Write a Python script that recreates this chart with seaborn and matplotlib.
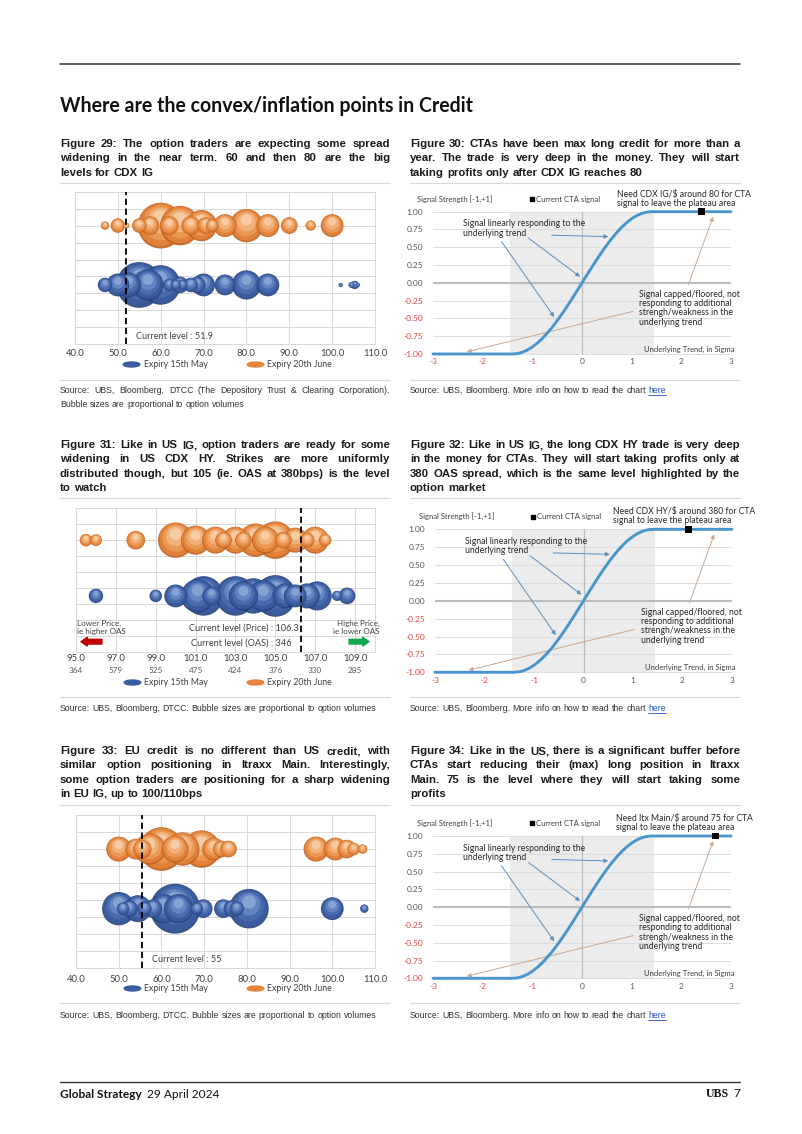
import warnings
warnings.filterwarnings("ignore")

import matplotlib
matplotlib.use("Agg")
import matplotlib.pyplot as plt
from matplotlib.lines import Line2D
from matplotlib.path import Path
from matplotlib.transforms import Affine2D
import seaborn as sns
import numpy as np
import pandas as pd

# ---------------- data ----------------
# Figure 29 - CDX IG option strikes / volumes
IG_MAY_STRIKE = [47, 50, 52.5, 55, 57, 60, 62, 63.5, 64.5, 65, 67, 68.5, 70, 75, 80, 85, 102, 104.5, 105.3, 106]
IG_MAY_VOL = [12, 30, 36, 121, 56, 90, 9, 6, 16, 6, 12, 16, 30, 25, 49, 30, 1, 2, 4, 1]
IG_JUN_STRIKE = [47, 50, 52, 55, 57.5, 60, 62, 64.5, 67, 69.5, 70.5, 72, 75, 80, 85, 90, 95, 100]
IG_JUN_VOL = [4, 12, 2, 12, 20, 121, 20, 90, 20, 56, 16, 9, 30, 64, 30, 16, 6, 30]
IG_LEVEL = 51.9

# Figure 31 - CDX HY option strikes / volumes
HY_MAY_STRIKE = [96, 99, 100, 101.1, 101.4, 101.8, 103, 103.4, 103.9, 104.4, 105, 105.5, 106, 106.6, 107.1, 108.1, 108.6]
HY_MAY_VOL = [12, 9, 30, 64, 90, 20, 90, 49, 72, 56, 100, 36, 30, 36, 49, 6, 16]
HY_JUN_STRIKE = [95.5, 96, 98, 100, 101, 102, 102.4, 103, 103.4, 104, 104.5, 105, 105.4, 106, 106.6, 107, 107.5]
HY_JUN_VOL = [9, 8, 20, 72, 49, 42, 16, 42, 16, 64, 42, 81, 16, 36, 12, 42, 9]
HY_LEVEL = 106.3
HY_LEVEL_OAS = 346
HY_TICKS = [95, 97, 99, 101, 103, 105, 107, 109]
HY_OAS = ["364", "579", "525", "475", "424", "376", "330", "285"]

# Figure 33 - iTraxx Main option strikes / volumes
EU_MAY_STRIKE = [50, 51, 52.5, 54.5, 56, 58, 60.5, 63.2, 64, 68.3, 69.8, 74.5, 76.5, 77.6, 80.5, 100, 107.5]
EU_MAY_VOL = [64, 9, 16, 42, 12, 20, 49, 144, 49, 9, 20, 20, 16, 12, 90, 30, 4]
EU_JUN_STRIKE = [50, 54, 55.5, 57.3, 60, 63.2, 65, 69.4, 72.2, 74, 75.7, 96.2, 100.7, 103.4, 105, 107.1]
EU_JUN_VOL = [36, 25, 20, 56, 110, 42, 64, 81, 30, 16, 16, 36, 30, 20, 9, 5]
EU_LEVEL = 55.4

SPREAD_TICKS = [40, 50, 60, 70, 80, 90, 100, 110]

# CTA signal curve (Figures 30, 32, 34)
SIGMA = [-3.0, -1.4, -1.3, -1.2, -1.1, -1.0, -0.9, -0.8, -0.7, -0.6, -0.5, -0.4, -0.3, -0.2, -0.1, 0.0,
         0.1, 0.2, 0.3, 0.4, 0.5, 0.6, 0.7, 0.8, 0.9, 1.0, 1.1, 1.2, 1.3, 1.4, 3.0]
SIGNAL = [-1.0, -1.0, -0.994, -0.975, -0.944, -0.901, -0.847, -0.782, -0.707, -0.624, -0.532, -0.434, -0.330,
          -0.223, -0.112, 0.0, 0.112, 0.223, 0.330, 0.434, 0.532, 0.624, 0.707, 0.782, 0.847, 0.901, 0.944,
          0.975, 0.994, 1.0, 1.0]
SIGNAL_TICKS = [1.0, 0.75, 0.5, 0.25, 0.0, -0.25, -0.5, -0.75, -1.0]
SIGMA_TICKS = [-3, -2, -1, 0, 1, 2, 3]
CURRENT_SIGNAL_X = {"IG": 2.41, "HY": 2.12, "MAIN": 2.68}
NEED_TEXT = {
    "IG": "Need CDX IG/$ around 80 for CTA\nsignal to leave the plateau area",
    "HY": "Need CDX HY/$ around 380 for CTA\nsignal to leave the plateau area",
    "MAIN": "Need Itx Main/$ around 75 for CTA\nsignal to leave the plateau area",
}

CAPTIONS = {
    29: ["Figure 29: The option traders are expecting some spread",
         "widening in the near term. 60 and then 80 are the big",
         "levels for CDX IG"],
    30: ["Figure 30: CTAs have been max long credit for more than a",
         "year. The trade is very deep in the money. They will start",
         "taking profits only after CDX IG reaches 80"],
    31: ["Figure 31: Like in US IG, option traders are ready for some",
         "widening in US CDX HY. Strikes are more uniformly",
         "distributed though, but 105 (ie. OAS at 380bps) is the level",
         "to watch"],
    32: ["Figure 32: Like in US IG, the long CDX HY trade is very deep",
         "in the money for CTAs. They will start taking profits only at",
         "380 OAS spread, which is the same level highlighted by the",
         "option market"],
    33: ["Figure 33: EU credit is no different than US credit, with",
         "similar option positioning in Itraxx Main. Interestingly,",
         "some option traders are positioning for a sharp widening",
         "in EU IG, up to 100/110bps"],
    34: ["Figure 34: Like in the US, there is a significant buffer before",
         "CTAs start reducing their (max) long position in Itraxx",
         "Main. 75 is the level where they will start taking some",
         "profits"],
}

# ---------------- styling ----------------
sns.set_theme(style="white")
plt.rcParams["font.family"] = ["Lato", "DejaVu Sans"]
BODY = ["Liberation Sans", "DejaVu Sans"]

W, H = 802, 1134
ORANGE = ["#c1601f", "#e5843b", "#ec9b58", "#f3b47f", "#f8cea8"]
BLUE = ["#27427c", "#3a5ca0", "#4a6db1", "#6687c3", "#8ba6d6"]
LAYERS = [(1.00, 0.00), (0.93, 0.04), (0.76, 0.12), (0.56, 0.22), (0.34, 0.34)]
AREA_K = 9.0
GRID = "#d9d9d9"
TXT = "#404040"
NOTE = "#262626"
RED = "#e0443c"

fig = plt.figure(figsize=(W / 100, H / 100), dpi=100)
fig.patch.set_facecolor("white")
renderer = fig.canvas.get_renderer()


def fx(x):
    return x / W


def fy(y):
    return 1 - y / H


def rect(x0, y0, x1, y1):
    return [fx(x0), fy(y1), (x1 - x0) / W, (y1 - y0) / H]


def hline(x0, x1, y, color, lw):
    fig.add_artist(Line2D([fx(x0), fx(x1)], [fy(y), fy(y)], color=color, lw=lw,
                          transform=fig.transFigure))


def put(x, y, s, size, **kw):
    # y is the visual middle of the line in page pixels; baseline snapped to the pixel grid
    base = round(y + 0.32 * size / 0.72)
    return fig.text(fx(x), fy(base), s, fontsize=size, va="baseline", **kw)


def width_of(s, size, weight="normal", family=None):
    t = fig.text(0, 0, s, fontsize=size, fontweight=weight)
    if family:
        t.set_family(family)
    w = t.get_window_extent(renderer).width
    t.remove()
    return w


def fit(s, target, weight="normal", base=8.0, family=None):
    return base * target / width_of(s, base, weight, family)


def paragraph(lines, x0, x1, y0, dy, size, weight="bold", color="#1a1a1a"):
    # justified block: every line but the last is spread to the full column width
    space = width_of("a a", size, weight, BODY) - width_of("aa", size, weight, BODY)
    for i, line in enumerate(lines):
        y = y0 + i * dy
        words = line.split(" ")
        arts = [put(x0, y, w, size, fontweight=weight, color=color, family=BODY) for w in words]
        widths = [a.get_window_extent(renderer).width for a in arts]
        gap = space
        if i < len(lines) - 1 and len(words) > 1:
            gap = (x1 - x0 - sum(widths)) / (len(words) - 1)
        x = x0
        for a, w in zip(arts, widths):
            a.set_x(fx(x))
            x += w + gap


# ---------------- page furniture ----------------
hline(60, 740, 64, "#555555", 1.3)
title = "Where are the convex/inflation points in Credit"
put(60, 106, title, fit(title, 415, "bold"), fontweight="bold", color="#111111")

cap_size = 9.5
for lines in CAPTIONS.values():
    for line in lines[:-1]:
        cap_size = min(cap_size, fit(line, 327, "bold", family=BODY))

for fig_no, (x0, x1) in zip([29, 30, 31, 32, 33, 34], [(60, 390), (410, 740)] * 3):
    y0 = {29: 143, 30: 143, 31: 444, 32: 444, 33: 750, 34: 750}[fig_no]
    paragraph(CAPTIONS[fig_no], x0, x1, y0, 14.5, cap_size)

for y in [183, 498, 805]:
    hline(60, 390, y, GRID, 0.8)
    hline(410, 740, y, GRID, 0.8)
for y in [380, 697, 1003]:
    hline(60, 390, y, GRID, 0.8)
    hline(410, 740, y, GRID, 0.8)

SRC = "#333333"
src_line = "Source: UBS, Bloomberg, DTCC. Bubble sizes are proportional to option volumes"
src_size = fit(src_line, 321, family=BODY)
paragraph(["Source: UBS, Bloomberg, DTCC (The Depository Trust & Clearing Corporation).",
           "Bubble sizes are proportional to option volumes"], 60, 390, 390, 14, src_size,
          weight="normal", color=SRC)
paragraph([src_line], 60, 390, 708, 14, src_size, weight="normal", color=SRC)
paragraph([src_line], 60, 390, 1015, 14, src_size, weight="normal", color=SRC)
for y in [390, 708, 1015]:
    lead = "Source: UBS, Bloomberg. More info on how to read the chart"
    paragraph([lead], 410, 740, y, 14, src_size, weight="normal", color=SRC)
    hx = 410 + width_of(lead + " ", src_size, family=BODY)
    put(hx, y, "here", src_size, color="#1f4fd1", family=BODY)
    hline(hx, hx + width_of("here", src_size, family=BODY), y + 5, "#1f4fd1", 0.6)

hline(60, 740, 1082, "#333333", 1.0)
put(60, 1094, "Global Strategy", 8.6, fontweight="bold", color="#111111")
put(60 + width_of("Global Strategy", 8.6, "bold") + 5, 1094, "29 April 2024", 8.6, color="#111111")
fig.text(fx(740), fy(1097), "7", fontsize=8.6, ha="right", va="baseline", color="#111111")
fig.text(fx(729), fy(1097), "UBS", fontsize=8.6, ha="right", va="baseline", color="#111111",
         family=["Liberation Serif", "DejaVu Serif"], fontweight="bold")


# ---------------- bubble charts ----------------
def draw_bubbles(ax, strikes, vols, row, shades, px_per_unit):
    order = np.argsort(vols)[::-1]
    for rank, i in enumerate(order):
        s0 = vols[i] * AREA_K
        r_px = np.sqrt(s0) / 2 / 0.72
        layer = pd.DataFrame({
            "strike": [strikes[i]] * len(LAYERS),
            "row": [row + sh * r_px / px_per_unit for _, sh in LAYERS],
            "shade": [str(k) for k in range(len(LAYERS))],
        })
        sns.scatterplot(data=layer, x="strike", y="row", hue="shade",
                        palette=dict(zip(layer["shade"], shades)),
                        s=[s0 * f ** 2 for f, _ in LAYERS], edgecolor="none", linewidth=0,
                        alpha=0.9, legend=False, ax=ax, zorder=3 + rank * 0.01)


ELLIPSE = Path.unit_circle().transformed(Affine2D().scale(1.0, 0.3))


def bubble_chart(box, xlim, xticks, may, jun, level, legend_y, tick_pad):
    ax = fig.add_axes(rect(*box))
    px_per_unit = (box[3] - box[1]) / 9
    draw_bubbles(ax, may[0], may[1], 3.5, BLUE, px_per_unit)
    draw_bubbles(ax, jun[0], jun[1], 7.0, ORANGE, px_per_unit)
    ax.axvline(level, color="black", lw=1.3, ls=(0, (3.5, 2)), zorder=20)
    ax.set_xlim(*xlim)
    ax.set_ylim(0, 9)
    ax.set_yticks(range(10))
    ax.set_yticklabels([])
    ax.set_xticks(xticks)
    ax.set_xticklabels([f"{v:.1f}" for v in xticks])
    ax.tick_params(length=0, labelsize=6.8, labelcolor=TXT, pad=tick_pad)
    ax.grid(True, color=GRID, lw=0.7)
    ax.set_axisbelow(True)
    ax.set_xlabel("")
    ax.set_ylabel("")
    for sp in ax.spines.values():
        sp.set_color(GRID)
        sp.set_linewidth(0.7)
    handles = [Line2D([], [], marker=ELLIPSE, markersize=12, color=c, ls="none") for c in (BLUE[1], ORANGE[1])]
    ax.legend(handles, ["Expiry 15th May", "Expiry 20th June"], loc="center", ncol=2,
              bbox_to_anchor=(0.51, legend_y), frameon=False, fontsize=6.3, labelcolor=TXT,
              columnspacing=4.6, handletextpad=0.6, handlelength=1.6)
    return ax


ax29 = bubble_chart((75, 191.7, 375, 344.3), (40, 110), SPREAD_TICKS,
                    (IG_MAY_STRIKE, IG_MAY_VOL), (IG_JUN_STRIKE, IG_JUN_VOL), IG_LEVEL, -0.13, 3.5)
ax29.text(54.2, 0.45, f"Current level : {IG_LEVEL}", fontsize=6.6, color=TXT, va="center", zorder=21)

ax31 = bubble_chart((76, 508.3, 375, 651.7), (95, 110), HY_TICKS,
                    (HY_MAY_STRIKE, HY_MAY_VOL), (HY_JUN_STRIKE, HY_JUN_VOL), HY_LEVEL, -0.215, 2.0)
for v, oas in zip(HY_TICKS, HY_OAS):
    ax31.text(v, -0.128, oas, transform=ax31.get_xaxis_transform(), fontsize=5.9,
              color="#595959", ha="center", va="center")
ax31.text(103.4, 1.47, f"Current level (Price) : {HY_LEVEL}", fontsize=6.6, color=TXT,
          ha="center", va="center", zorder=21)
ax31.text(103.3, 0.57, f"Current level (OAS) : {HY_LEVEL_OAS}", fontsize=6.6, color=TXT,
          ha="center", va="center", zorder=21)
ax31.text(95.07, 1.54, "Lower Price,\nie higher OAS", fontsize=5.8, color=TXT, ha="left",
          va="center", linespacing=1.2)
ax31.text(110.25, 1.54, "Highe Price,\nie lower OAS", fontsize=5.8, color=TXT, ha="right",
          va="center", linespacing=1.2, clip_on=False)
ax31.annotate("", xy=(95.25, 0.63), xytext=(96.3, 0.63),
              arrowprops=dict(arrowstyle="simple,head_length=0.5,head_width=0.7,tail_width=0.38",
                              color="#c00000", shrinkA=0, shrinkB=0, mutation_scale=9))
ax31.annotate("", xy=(109.7, 0.63), xytext=(108.7, 0.63),
              arrowprops=dict(arrowstyle="simple,head_length=0.5,head_width=0.7,tail_width=0.38",
                              color="#10a850", shrinkA=0, shrinkB=0, mutation_scale=9),
              annotation_clip=False)

ax33 = bubble_chart((76, 815, 375, 968.3), (40, 110), SPREAD_TICKS,
                    (EU_MAY_STRIKE, EU_MAY_VOL), (EU_JUN_STRIKE, EU_JUN_VOL), EU_LEVEL, -0.13, 4.5)
ax33.text(57.7, 0.49, "Current level : 55", fontsize=6.6, color=TXT, va="center", zorder=21)


# ---------------- CTA signal charts ----------------
def cta_chart(box, key, need_x):
    x0, y_top, x1, y_bot = box
    pad = 0.03 * (y_bot - y_top) / 2.0
    ax = fig.add_axes(rect(x0, y_top - pad, x1, y_bot + pad))
    ax.set_xlim(-3, 3)
    ax.set_ylim(-1.03, 1.03)
    ax.fill_betweenx([-1, 1], -1.45, 1.45, color="#ececec", lw=0, zorder=0)
    for v in SIGNAL_TICKS:
        ax.axhline(v, color="#bdbdbd" if v == 0 else "#dcdcdc", lw=1.5 if v == 0 else 0.7, zorder=1)
    ax.axvline(0, ymin=0.03 / 2.06, ymax=1 - 0.03 / 2.06, color="#bdbdbd", lw=0.9, zorder=1)
    sns.lineplot(x=SIGMA, y=SIGNAL, ax=ax, color="#4a95cb", lw=2.1, zorder=4, clip_on=False)
    sns.scatterplot(x=[CURRENT_SIGNAL_X[key]], y=[1.0], ax=ax, marker="s", color="black", s=24,
                    edgecolor="none", zorder=6, clip_on=False)
    ax.set_yticks(SIGNAL_TICKS)
    ax.set_yticklabels([f"{v:.2f}" for v in SIGNAL_TICKS])
    ax.set_xticks(SIGMA_TICKS)
    ax.set_xticklabels([str(v) for v in SIGMA_TICKS])
    for lab, v in zip(ax.get_yticklabels(), SIGNAL_TICKS):
        lab.set_color(RED if v < 0 else "#595959")
    for lab, v in zip(ax.get_xticklabels(), SIGMA_TICKS):
        lab.set_color(RED if v < 0 else "#595959")
    ax.tick_params(axis="y", length=0, labelsize=6.0, pad=7)
    ax.tick_params(axis="x", length=0, labelsize=6.0, pad=1.5)
    for sp in ax.spines.values():
        sp.set_visible(False)
    ax.set_facecolor("white")

    ax.text(-3.32, 1.18, "Signal Strength [-1,+1]", fontsize=5.5, color=TXT, va="center")
    ax.text(3.08, -0.93, "Underlying Trend, in Sigma", fontsize=5.5, color=TXT, va="center", ha="right")
    ax.text(need_x, 1.18, NEED_TEXT[key], fontsize=6.2, color=NOTE, va="center", linespacing=1.0)
    ax.text(-2.39, 0.764, "Signal linearly responding to the\nunderlying trend", fontsize=6.2,
            color=NOTE, va="center", linespacing=1.05)
    ax.text(1.155, -0.355, "Signal capped/floored, not\nresponding to additional\n"
            "strengh/weakness in the\nunderlying trend", fontsize=6.2, color=NOTE,
            va="center", linespacing=1.05)
    handle = Line2D([], [], marker="s", color="black", ls="none", markersize=3.5)
    ax.legend([handle], ["Current CTA signal"], loc="center", bbox_to_anchor=(0.44, 1.07),
              frameon=False, fontsize=5.6, labelcolor=TXT, handletextpad=0.1, handlelength=0.8)

    blue = dict(arrowstyle="-|>", color="#5b8fbf", lw=0.7, mutation_scale=6, shrinkA=0, shrinkB=0)
    tan = dict(arrowstyle="-|>", color="#caa792", lw=0.7, mutation_scale=6, shrinkA=0, shrinkB=0)
    ax.annotate("", xy=(0.53, 0.65), xytext=(-0.61, 0.67), arrowprops=blue)
    ax.annotate("", xy=(-0.04, 0.086), xytext=(-1.08, 0.63), arrowprops=blue)
    ax.annotate("", xy=(-0.56, -0.48), xytext=(-1.62, 0.58), arrowprops=blue)
    ax.annotate("", xy=(2.64, 0.93), xytext=(2.14, -0.03), arrowprops=tan)
    ax.annotate("", xy=(-2.32, -0.97), xytext=(1.03, -0.40), arrowprops=tan)
    return ax


cta_chart((433, 211.7, 731, 354.0), "IG", 0.70)
cta_chart((435, 529.3, 732, 672.3), "HY", 0.60)
cta_chart((433, 836.0, 731, 978.3), "MAIN", 0.68)

fig.savefig("out.png", dpi=100, facecolor="white")
